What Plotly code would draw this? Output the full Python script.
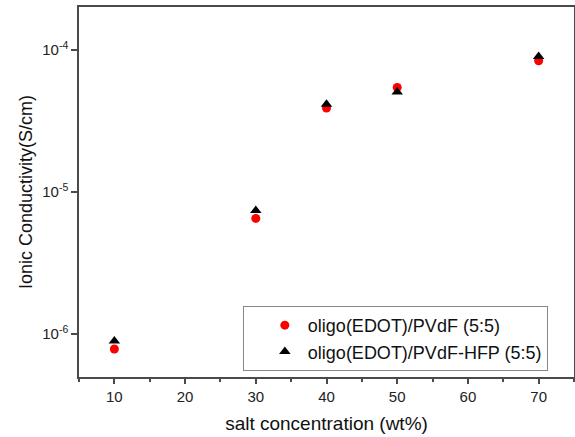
import plotly.graph_objects as go

salt_wt = [10, 30, 40, 50, 70]
pvdf = [7.8e-7, 6.5e-6, 3.9e-5, 5.45e-5, 8.4e-5]
pvdf_hfp = [8.9e-7, 7.4e-6, 4.15e-5, 5.05e-5, 9.0e-5]
series_names = ["oligo(EDOT)/PVdF (5:5)", "oligo(EDOT)/PVdF-HFP (5:5)"]
y_tick_vals = [1e-6, 1e-5, 1e-4]
y_tick_text = ["10<sup>-6</sup>", "10<sup>-5</sup>", "10<sup>-4</sup>"]

font_family = "Arial, Liberation Sans, sans-serif"

fig = go.Figure()
fig.add_trace(go.Scatter(
    x=salt_wt, y=pvdf, mode="markers", name=series_names[0],
    marker=dict(symbol="circle", size=9, color="#ff0000", line=dict(width=0)),
))
fig.add_trace(go.Scatter(
    x=salt_wt, y=pvdf_hfp, mode="markers", name=series_names[1],
    marker=dict(symbol="triangle-up", size=10, color="#000000", line=dict(width=0)),
))

axis_common = dict(
    showline=True, linecolor="#4a4a4a", linewidth=1.5, mirror=True,
    showgrid=False, zeroline=False, ticks="outside", tickcolor="#4a4a4a",
    tickwidth=1.5, automargin=False,
)

fig.update_xaxes(
    range=[5, 75], tick0=10, dtick=10, ticklen=5,
    tickfont=dict(family=font_family, size=15, color="#222222"),
    minor=dict(dtick=5, tick0=5, ticks="outside", ticklen=3, tickcolor="#4a4a4a", tickwidth=1.5),
    title=dict(text="salt concentration (wt%)", font=dict(family=font_family, size=19, color="#111111"), standoff=13),
    **axis_common,
)
fig.update_yaxes(
    type="log", range=[-6.305, -3.697], tickvals=y_tick_vals, ticktext=y_tick_text, ticklen=6,
    tickfont=dict(family=font_family, size=15, color="#222222"),
    title=dict(text="Ionic Conductivity(S/cm)", font=dict(family=font_family, size=18, color="#111111"), standoff=5),
    **axis_common,
)

fig.update_layout(
    width=575, height=437,
    margin=dict(l=79, r=1, t=7, b=60),
    plot_bgcolor="white", paper_bgcolor="white",
    showlegend=True,
    legend=dict(
        x=0.331, y=0.192, xanchor="left", yanchor="top",
        bordercolor="#888888", borderwidth=1, bgcolor="white",
        font=dict(family=font_family, size=18, color="#111111"),
        indentation=18, itemwidth=36, tracegroupgap=0,
    ),
)

fig.write_html(
    "out.html",
    config={"displayModeBar": False},
    post_script="document.body.style.margin='0';document.body.style.padding='0';document.body.style.overflow='hidden';",
)
